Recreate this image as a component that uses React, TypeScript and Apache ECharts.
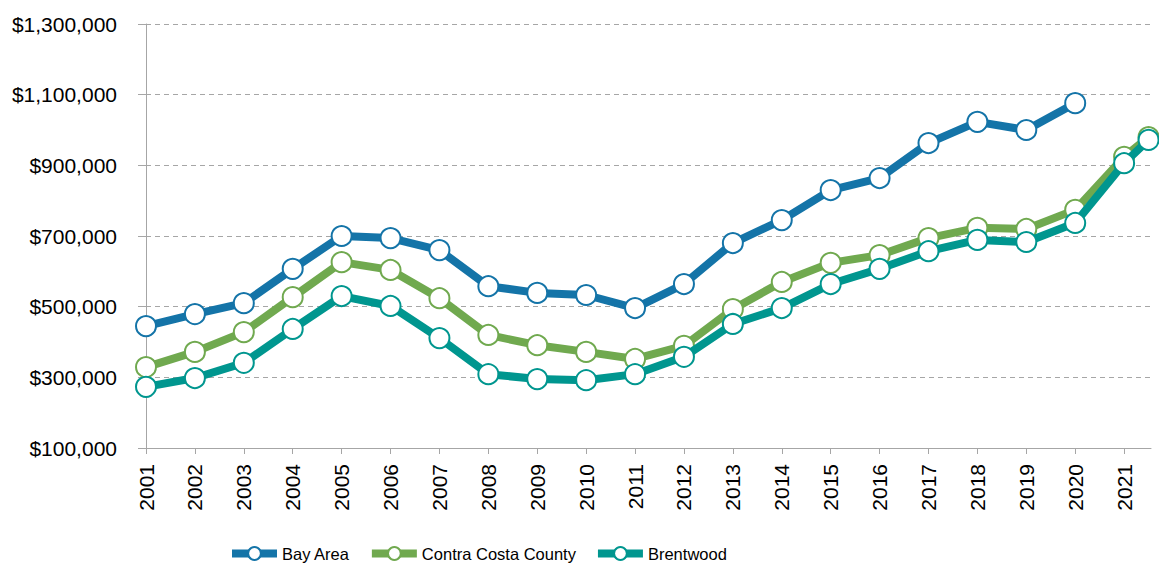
import React, { useEffect, useRef } from "react";
import * as echarts from "echarts";

// Year labels on the x axis
const years = [
  2001, 2002, 2003, 2004, 2005, 2006, 2007, 2008, 2009, 2010, 2011,
  2012, 2013, 2014, 2015, 2016, 2017, 2018, 2019, 2020, 2021,
];
// x positions of the data points (the last point is a partial-year reading)
const pointX = [...years, 2021.5];

const bayArea = [
  445000, 479000, 510000, 607000, 700000, 694000, 660000, 558000, 539000, 533000, 496000,
  564000, 680000, 745000, 830000, 864000, 963000, 1023000, 1000000, 1076000, null, null,
];
const contraCosta = [
  329000, 372000, 428000, 527000, 626000, 604000, 524000, 420000, 391000, 372000, 352000,
  389000, 493000, 570000, 624000, 646000, 694000, 723000, 720000, 774000, 924000, 980000,
];
const brentwood = [
  273000, 298000, 341000, 437000, 530000, 502000, 411000, 309000, 295000, 292000, 309000,
  358000, 451000, 496000, 564000, 607000, 657000, 689000, 683000, 737000, 906000, 972000,
];

const seriesNames = ["Bay Area", "Contra Costa County", "Brentwood"];
const seriesColors = ["#1474A8", "#70A94F", "#00968F"];

const yMin = 100000;
const yMax = 1300000;
const yStep = 200000;
const xMax = 2021.55;

function pairs(values: (number | null)[]) {
  return values.map((v, i) => [pointX[i], v]);
}

export default function App() {
  const ref = useRef<HTMLDivElement>(null);

  useEffect(() => {
    if (!ref.current) return;
    const chart = echarts.init(ref.current, undefined, { renderer: "svg" });
    const font = "'Liberation Sans', Arial, sans-serif";
    const gray = "#A6A6A6";
    const allData = [bayArea, contraCosta, brentwood];

    chart.setOption({
      animation: false,
      backgroundColor: "#ffffff",
      grid: { left: 146, right: 8, top: 24, bottom: 115, containLabel: false },
      xAxis: {
        type: "value",
        min: 2001,
        max: xMax,
        interval: 1,
        axisLine: { show: true, onZero: false, lineStyle: { color: gray, width: 1 } },
        axisTick: {
          show: true,
          length: 6,
          customValues: years,
          lineStyle: { color: gray, width: 1 },
        },
        axisLabel: {
          customValues: years,
          rotate: 90,
          margin: 16,
          fontSize: 21,
          fontFamily: font,
          color: "#000",
          formatter: (v: number) => String(v),
        },
        splitLine: { show: false },
      },
      yAxis: {
        type: "value",
        min: yMin,
        max: yMax,
        interval: yStep,
        axisLine: { show: true, lineStyle: { color: gray, width: 1 } },
        axisTick: { show: true, length: 8, lineStyle: { color: gray, width: 1 } },
        axisLabel: {
          margin: 29,
          fontSize: 21,
          fontFamily: font,
          color: "#000",
          formatter: (v: number) => "$" + v.toLocaleString("en-US"),
        },
        splitLine: {
          show: true,
          lineStyle: { color: gray, width: 1.2, type: [5, 4] },
        },
      },
      legend: {
        show: true,
        left: 223,
        top: 540,
        itemWidth: 45,
        itemHeight: 16,
        itemGap: 18,
        lineStyle: { width: 8 },
        textStyle: { fontSize: 16.5, fontFamily: font, color: "#000" },
        data: seriesNames,
      },
      series: seriesNames.map((name, i) => ({
        name,
        type: "line",
        data: pairs(allData[i]),
        connectNulls: false,
        symbol: "emptyCircle",
        symbolSize: 20,
        showAllSymbol: true,
        lineStyle: { color: seriesColors[i], width: 8 },
        itemStyle: { color: seriesColors[i], borderColor: seriesColors[i], borderWidth: 1 },
        emphasis: { disabled: true },
        z: 2 + i,
      })),
    });

    return () => chart.dispose();
  }, []);

  return (
    <div
      ref={ref}
      style={{ position: "fixed", left: 0, top: 0, width: 1159, height: 563, background: "#fff" }}
    />
  );
}
